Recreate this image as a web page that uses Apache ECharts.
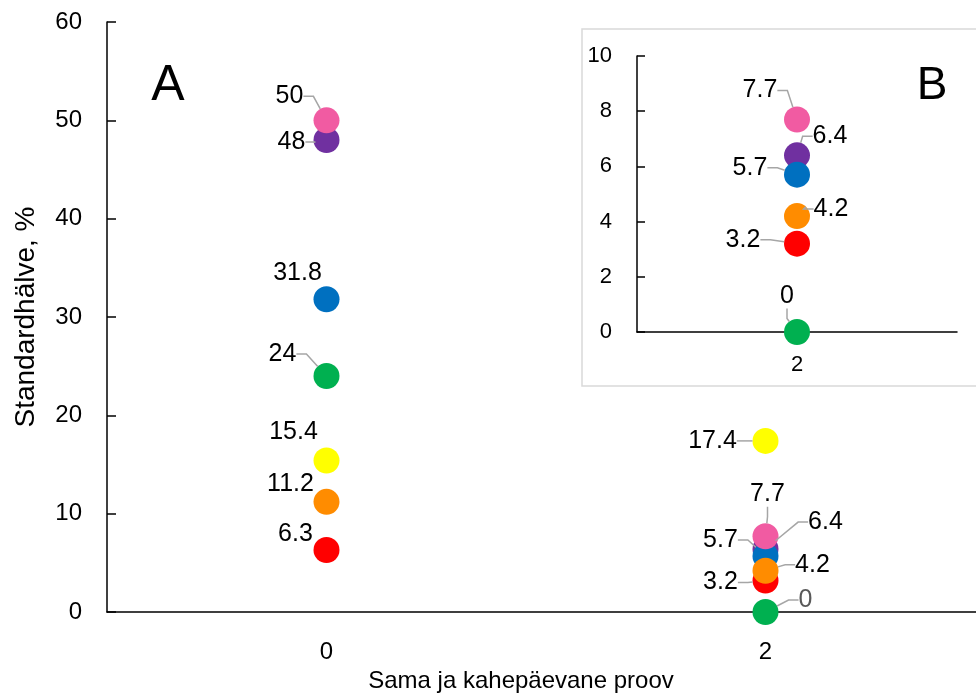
<!DOCTYPE html>
<html><head><meta charset="utf-8">
<script src="https://cdn.jsdelivr.net/npm/echarts@6/dist/echarts.min.js"></script>
<style>html,body{margin:0;padding:0;background:#fff}#c{width:976px;height:695px}</style>
</head><body><div id="c"></div>
<script>
// ---- data ----
const xCategories = ['0', '2'];
const insetCategories = ['2'];
const pinkValues = [50, 7.7];
const purpleValues = [48, 6.4];
const blueValues = [31.8, 5.7];
const greenValues = [24, 0];
const yellowValues = [15.4, 17.4];
const orangeValues = [11.2, 4.2];
const redValues = [6.3, 3.2];
const insetPinkValues = [7.7];
const insetPurpleValues = [6.4];
const insetBlueValues = [5.7];
const insetGreenValues = [0];
const insetOrangeValues = [4.2];
const insetRedValues = [3.2];
const yAxisTitle = 'Standardhälve, %';
const xAxisTitle = 'Sama ja kahepäevane proov';

// ---- style / layout ----
const FONT = '"Liberation Sans", Arial, sans-serif';
const colors = {pink:'#F15BA2', purple:'#7030A0', blue:'#0070C0', green:'#00B050', yellow:'#FFFF00', orange:'#FF8C00', red:'#FF0000'};
const mainSeries = [
  ['purple', purpleValues, [[-35,2],[60,-27]], [true,true]],
  ['blue', blueValues, [[-29,-26],[-45,-16]], [false,true]],
  ['pink', pinkValues, [[-37,-24],[2,-42]], [true,true]],
  ['red', redValues, [[-31,-16],[-45,2]], [false,true]],
  ['orange', orangeValues, [[-36,-18],[47,-6]], [false,true]],
  ['green', greenValues, [[-44,-22],[40,-12]], [true,true]],
  ['yellow', yellowValues, [[-33,-28],[-53,0]], [false,true]]
];
const insetSeries = [
  ['purple', insetPurpleValues, [[33,-19]]],
  ['blue', insetBlueValues, [[-47,-7]]],
  ['pink', insetPinkValues, [[-37,-29]]],
  ['red', insetRedValues, [[-54,-4]]],
  ['orange', insetOrangeValues, [[34,-7]]],
  ['green', insetGreenValues, [[-10,-36]]]
];
const axisLineStyle = {color:'#000', width:1.5};
const leader = {lineStyle:{color:'#A6A6A6', width:1.5}, length2: 10, showAbove: true};

function makeSeries(def, gridIdx, fontSize, grayZero) {
  const [name, vals, offs, lines] = def;
  return {
    type: 'scatter', name: name, xAxisIndex: gridIdx, yAxisIndex: gridIdx,
    symbolSize: 26, itemStyle: {color: colors[name], opacity: 1},
    data: vals.map((v, i) => {
      const item = {value: v, labelLine: Object.assign({show: lines ? lines[i] : true}, leader)};
      if (grayZero && v === 0) item.label = {color: '#595959'};
      return item;
    }),
    label: {show: true, position: 'inside', fontSize: fontSize, color: '#000', fontFamily: FONT, formatter: p => String(p.value)},
    labelLine: Object.assign({show: true}, leader),
    labelLayout: p => ({dx: offs[p.dataIndex][0], dy: offs[p.dataIndex][1]}),
    emphasis: {disabled: true},
    animation: false
  };
}

const chart = echarts.init(document.getElementById('c'));
chart.setOption({
  animation: false,
  grid: [
    {left: 107, top: 22, width: 878, height: 590, outerBoundsMode: 'none', containLabel: false},
    {left: 637, top: 56, width: 320, height: 276, outerBoundsMode: 'none', containLabel: false}
  ],
  xAxis: [
    {type: 'category', gridIndex: 0, data: xCategories, boundaryGap: true,
     axisLine: {lineStyle: axisLineStyle}, axisTick: {inside: true, alignWithLabel: true, length: 9, lineStyle: axisLineStyle},
     axisLabel: {fontSize: 24, color: '#000', margin: 28, fontFamily: FONT},
     name: xAxisTitle, nameLocation: 'middle', nameGap: 56,
     nameTextStyle: {fontSize: 24, color: '#000', fontFamily: FONT, padding: [0, 50, 0, 0]}},
    {type: 'category', gridIndex: 1, data: insetCategories, boundaryGap: true,
     axisLine: {lineStyle: axisLineStyle}, axisTick: {inside: true, alignWithLabel: false, length: 8, lineStyle: axisLineStyle},
     axisLabel: {fontSize: 22, color: '#000', margin: 22, fontFamily: FONT}}
  ],
  yAxis: [
    {type: 'value', gridIndex: 0, min: 0, max: 60, interval: 10,
     axisLine: {show: true, lineStyle: axisLineStyle}, axisTick: {show: true, inside: true, length: 9, lineStyle: axisLineStyle},
     splitLine: {show: false},
     axisLabel: {fontSize: 24, color: '#000', margin: 25, fontFamily: FONT},
     name: yAxisTitle, nameLocation: 'middle', nameGap: 67, nameRotate: 90,
     nameTextStyle: {fontSize: 28, color: '#000', fontFamily: FONT}},
    {type: 'value', gridIndex: 1, min: 0, max: 10, interval: 2,
     axisLine: {show: true, lineStyle: axisLineStyle}, axisTick: {show: true, inside: true, length: 8, lineStyle: axisLineStyle},
     splitLine: {show: false},
     axisLabel: {fontSize: 22, color: '#000', margin: 25, fontFamily: FONT}}
  ],
  graphic: [
    {type: 'rect', shape: {x: 582, y: 29, width: 420, height: 357}, style: {fill: 'none', stroke: '#D9D9D9', lineWidth: 1.5}, silent: true},
    {type: 'text', x: 168, y: 86, style: {text: 'A', fontSize: 50, fill: '#000', fontFamily: FONT, align: 'center', verticalAlign: 'middle'}},
    {type: 'text', x: 932, y: 86, style: {text: 'B', fontSize: 46, fill: '#000', fontFamily: FONT, align: 'center', verticalAlign: 'middle'}}
  ],
  series: mainSeries.map(d => makeSeries(d, 0, 25, true)).concat(insetSeries.map(d => makeSeries(d, 1, 25, false)))
});
</script></body></html>
